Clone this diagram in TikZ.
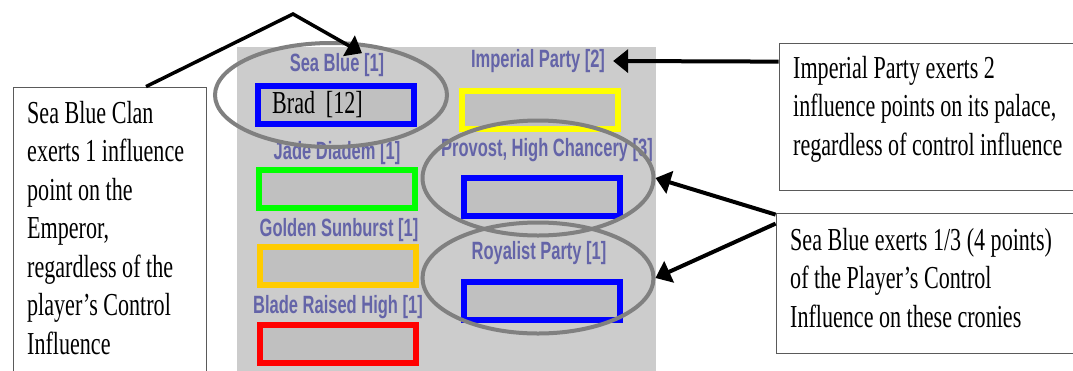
\documentclass[tikz,border=0pt]{standalone}
\usepackage{fontspec}
\setmainfont{Liberation Serif}[FakeStretch=0.69]
\newfontfamily\lblfont{Liberation Sans}[FakeStretch=0.66]
\usetikzlibrary{calc}
\usetikzlibrary{shapes.geometric}
\usetikzlibrary{arrows.meta}

\definecolor{panelgray}{RGB}{204,204,204}
\definecolor{slotgray}{RGB}{192,192,192}
\definecolor{ringgray}{RGB}{128,128,128}
\definecolor{lblblue}{RGB}{100,100,168}
\definecolor{notegray}{RGB}{90,90,90}
\definecolor{seablue}{RGB}{0,0,255}
\definecolor{jadegreen}{RGB}{0,255,0}
\definecolor{sungold}{RGB}{255,204,0}
\definecolor{bladered}{RGB}{255,0,0}
\definecolor{imperialyellow}{RGB}{255,255,0}

\begin{document}
\begin{tikzpicture}[x=1pt,y=-1pt,
  clanlbl/.style={text=lblblue, font=\lblfont\bfseries\fontsize{25}{30}\selectfont, inner sep=0},
  slot/.style={draw, line width=6pt, fill=slotgray, minimum width=156pt, minimum height=38pt, inner sep=0},
  ring/.style={ellipse, draw=ringgray, line width=4pt, inner sep=0},
  note/.style={draw=notegray, line width=1.5pt, fill=white, inner sep=0, anchor=north west},
  notetext/.style={align=left, inner sep=0, anchor=north west, font=\fontsize{32}{38.5}\selectfont},
  arr/.style={line width=4pt, -{Triangle[length=15pt,width=23pt]}}]

\useasboundingbox (0,0) rectangle (1073,370);

% game panel
\fill[panelgray] (237,47) rectangle (656,380);

\node[clanlbl] (sealbl) at (337,65) {Sea Blue [1]};
\node[clanlbl] (jadelbl) at (337,153) {Jade Diadem [1]};
\node[clanlbl] (sunlbl) at (339,230) {Golden Sunburst [1]};
\node[clanlbl] (bladelbl) at (338,307) {Blade Raised High [1]};
\node[clanlbl] (implbl) at (538,61) {Imperial Party [2]};
\node[clanlbl] (provlbl) at (547,150) {Provost, High Chancery [3]};
\node[clanlbl] (roylbl) at (539,253) {Royalist Party [1]};

\node[slot, draw=seablue] (seaslot) at (336,105) {};
\node[slot, draw=jadegreen] (jadeslot) at (336.5,189) {};
\node[slot, draw=sungold] (sunslot) at (337.5,266) {};
\node[slot, draw=bladered] (bladeslot) at (337.5,343.5) {};
\node[slot, draw=imperialyellow] (impslot) at (540,109.5) {};
\node[slot, draw=seablue] (provslot) at (542,197) {};
\node[slot, draw=seablue] (royslot) at (541.5,300.5) {};

\node[anchor=west, inner sep=0, font=\fontsize{32}{38}\selectfont] (brad) at ([xshift=17pt]seaslot.west) {Brad\ \,[12]};

\node[ring, minimum width=232pt, minimum height=104pt] (searing) at (331,95) {};
\node[ring, minimum width=231pt, minimum height=115pt] (provring) at (538,178) {};
\node[ring, minimum width=231pt, minimum height=111pt] (royring) at (538,278) {};

% notes
\node[note, minimum width=193pt, minimum height=304pt] (lbox) at (12.6,86.6) {};
\node[notetext] (ltext) at (27,101) {Sea Blue Clan\\exerts 1 influence\\point on the\\Emperor,\\regardless of the\\player’s Control\\Influence};

\node[note, minimum width=294pt, minimum height=147pt] (ipbox) at (778.6,42.6) {};
\node[notetext] (iptext) at (793,56) {Imperial Party exerts 2\\influence points on its palace,\\regardless of control influence};

\node[note, minimum width=297pt, minimum height=140pt] (sbbox) at (775.6,212.6) {};
\node[notetext] (sbtext) at (790,228) {Sea Blue exerts 1/3 (4 points)\\of the Player’s Control\\Influence on these cronies};

\coordinate (peak) at (293,14);

\draw[arr, line width=3.5pt] ($(lbox.north west)!0.686!(lbox.north east)$) -- (peak) -- ([xshift=25pt]sealbl.north);
\draw[arr] ([yshift=-19pt]ipbox.north west) -- ([xshift=8pt]implbl.east);
\draw[arr] ([yshift=-2pt]sbbox.north west) -- (provring.east);
\draw[arr] ([yshift=-11pt]sbbox.north west) -- (royring.east);

\end{tikzpicture}
\end{document}
